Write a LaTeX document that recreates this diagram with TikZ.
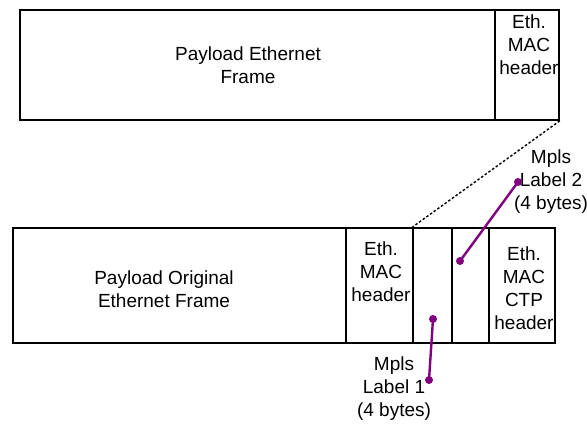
\documentclass[tikz,border=0pt]{standalone}
\usepackage{fontspec}
\setmainfont{Liberation Sans}
\usetikzlibrary{fit}
\begin{document}
\begin{tikzpicture}[x=1bp,y=-1bp,
  cell/.style={draw=black, line width=1.6bp, inner sep=0pt, rectangle},
  txt/.style={align=center, inner sep=0pt, font=\fontsize{19bp}{23bp}\selectfont},
  mpls/.style={draw={rgb,255:red,128;green,0;blue,128}, line width=2.4bp},
  dot/.style={fill={rgb,255:red,128;green,0;blue,128}, circle, inner sep=0pt, minimum size=8bp}]
\useasboundingbox (0,0) rectangle (587,425);
% top frame
\node[cell, fit={(20,10) (495,120)}] (pay1) {};
\node[cell, fit={(495,10) (559,120)}] (hdr1) {};
\node[txt] (pay1t) at (248,65) {Payload Ethernet\\Frame};
\node[txt] (hdr1t) at (529,45) {Eth.\\MAC\\header};
% bottom frame
\node[cell, fit={(13,228) (346,343)}] (pay2) {};
\node[cell, fit={(346,228) (413,343)}] (hdr2) {};
\node[cell, fit={(413,228) (452,343)}] (lab1) {};
\node[cell, fit={(452,228) (489,343)}] (lab2) {};
\node[cell, fit={(489,228) (555,343)}] (ctp) {};
\node[txt] (pay2t) at (164,289) {Payload Original\\Ethernet Frame};
\node[txt] (hdr2t) at (381,272) {Eth.\\MAC\\header};
\node[txt] (ctpt) at (524,288) {Eth.\\MAC\\CTP\\header};
% dotted connector
\draw[line width=1.4bp, dash pattern=on 2.5bp off 2bp] (hdr1.south east) -- (lab1.north west);
% mpls labels
\node[txt] (m2t) at (551,182) {Mpls\\Label 2\\(4 bytes)};
\node[txt] (m1t) at (394,389) {Mpls\\Label 1\\(4 bytes)};
\coordinate (m2a) at (460,261);
\coordinate (m2b) at (518,182);
\coordinate (m1a) at (433,319);
\coordinate (m1b) at (429,380);
\draw[mpls] (m2a) -- (m2b);
\draw[mpls] (m1a) -- (m1b);
\node[dot] at (m2a) {};
\node[dot] at (m2b) {};
\node[dot] at (m1a) {};
\node[dot] at (m1b) {};
\end{tikzpicture}
\end{document}
